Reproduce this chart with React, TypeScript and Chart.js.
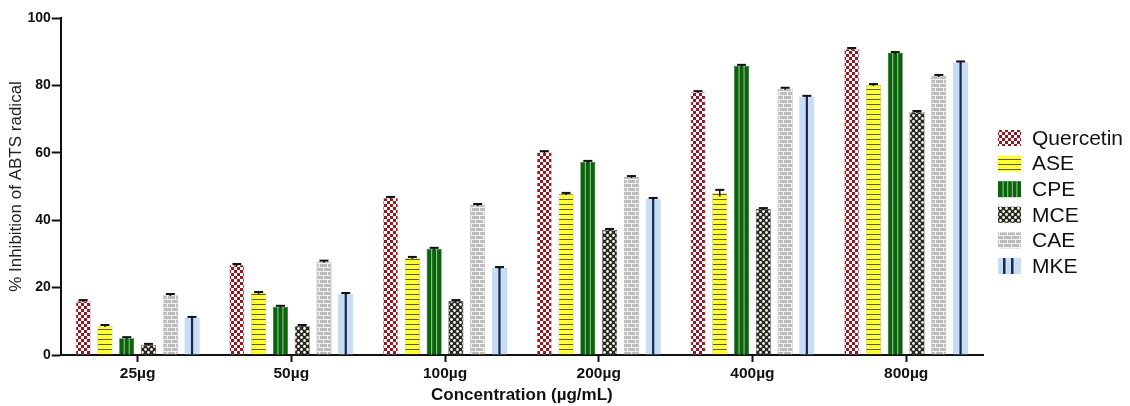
import React, { useEffect, useRef } from "react";
import { Chart, registerables } from "chart.js";
Chart.register(...registerables);

const categories = ["25µg", "50µg", "100µg", "200µg", "400µg", "800µg"];
const seriesNames = ["Quercetin", "ASE", "CPE", "MCE", "CAE", "MKE"];
const quercetin = [16.0, 26.7, 46.6, 60.2, 78.0, 90.8];
const ase = [8.6, 18.4, 28.8, 47.8, 48.0, 80.1];
const cpe = [5.0, 14.3, 31.5, 57.3, 85.8, 89.6];
const mce = [3.0, 8.6, 16.0, 37.1, 43.3, 72.1];
const cae = [17.8, 27.7, 44.5, 52.8, 79.0, 82.8];
const mke = [11.0, 18.1, 25.8, 46.3, 76.6, 86.8];
const quercetinErr = [0.3, 0.3, 0.3, 0.3, 0.3, 0.3];
const aseErr = [0.3, 0.3, 0.3, 0.3, 1.0, 0.3];
const cpeErr = [0.3, 0.3, 0.3, 0.3, 0.3, 0.3];
const mceErr = [0.3, 0.3, 0.3, 0.3, 0.3, 0.3];
const caeErr = [0.3, 0.3, 0.3, 0.3, 0.3, 0.3];
const mkeErr = [0.3, 0.3, 0.3, 0.3, 0.3, 0.3];
const yTicks = [0, 20, 40, 60, 80, 100];

const FONT = "'Liberation Sans', Arial, Helvetica, sans-serif";

function makePattern(w: number, h: number, draw: (c: CanvasRenderingContext2D) => void) {
  const cv = document.createElement("canvas");
  cv.width = w;
  cv.height = h;
  const c = cv.getContext("2d")!;
  draw(c);
  const ctx = document.createElement("canvas").getContext("2d")!;
  return ctx.createPattern(cv, "repeat")!;
}

function buildPatterns() {
  const checker = makePattern(6, 6, (c) => {
    c.fillStyle = "#ffffff";
    c.fillRect(0, 0, 6, 6);
    c.fillStyle = "#9a161e";
    c.fillRect(0, 0, 3, 3);
    c.fillRect(3, 3, 3, 3);
  });
  const hlines = makePattern(4, 5, (c) => {
    c.fillStyle = "#ffff33";
    c.fillRect(0, 0, 4, 5);
    c.fillStyle = "#5a5a30";
    c.fillRect(0, 4, 4, 1);
  });
  const dots = makePattern(6, 6, (c) => {
    c.fillStyle = "#262626";
    c.fillRect(0, 0, 6, 6);
    c.fillStyle = "#f4f4e0";
    c.beginPath();
    c.arc(1.5, 1.5, 1.4, 0, Math.PI * 2);
    c.fill();
    c.beginPath();
    c.arc(4.5, 4.5, 1.4, 0, Math.PI * 2);
    c.fill();
  });
  const bricks = makePattern(8, 8, (c) => {
    c.fillStyle = "#bdbdbd";
    c.fillRect(0, 0, 8, 8);
    c.fillStyle = "#f2f2f2";
    c.fillRect(0, 3, 8, 1);
    c.fillRect(0, 7, 8, 1);
    c.fillRect(7, 0, 1, 3);
    c.fillRect(3, 4, 1, 3);
  });
  return [checker, hlines, "#0b640b", dots, bricks, "#c7dcf5"];
}

export default function App() {
  const ref = useRef<HTMLCanvasElement>(null);
  useEffect(() => {
    const fills = buildPatterns();
    const values = [quercetin, ase, cpe, mce, cae, mke];
    const errs = [quercetinErr, aseErr, cpeErr, mceErr, caeErr, mkeErr];
    const borders = ["#c9a0a0", "#b0b060", "#0b500b", "#303030", "#9a9a9a", "#9fb8d8"];

    const errorPlugin = {
      id: "errs",
      afterDatasetsDraw(chart: any) {
        const ctx = chart.ctx;
        const y = chart.scales.y;
        ctx.save();
        chart.data.datasets.forEach((ds: any, di: number) => {
          const meta = chart.getDatasetMeta(di);
          meta.data.forEach((bar: any, i: number) => {
            if (di === 5) {
              ctx.fillStyle = "#1c2a44";
              ctx.fillRect(bar.x - 1.1, bar.y, 2.2, bar.base - bar.y);
            }
            if (di === 2) {
              ctx.fillStyle = "#9ccc9c";
              ctx.fillRect(bar.x - 3, bar.y, 1, bar.base - bar.y);
              ctx.fillRect(bar.x + 2, bar.y, 1, bar.base - bar.y);
            }
            const v = ds.data[i];
            const e = errs[di][i];
            const top = y.getPixelForValue(v + e);
            const bot = y.getPixelForValue(v - e);
            ctx.strokeStyle = "#111";
            ctx.lineWidth = 1.5;
            ctx.beginPath();
            ctx.moveTo(bar.x, bot);
            ctx.lineTo(bar.x, top);
            ctx.stroke();
            ctx.lineWidth = 2;
            ctx.beginPath();
            ctx.moveTo(bar.x - 4.5, top);
            ctx.lineTo(bar.x + 4.5, top);
            ctx.stroke();
          });
        });
        ctx.restore();
      },
    };

    const legendPlugin = {
      id: "customLegend",
      afterDraw(chart: any) {
        const ctx = chart.ctx;
        ctx.save();
        const x0 = 998;
        const y0 = 138;
        const step = 25.6;
        seriesNames.forEach((name, i) => {
          const cy = y0 + i * step;
          ctx.fillStyle = fills[i] as any;
          ctx.fillRect(x0, cy - 8, 23, 16);
          if (i === 5) {
            ctx.fillStyle = "#1c2a44";
            ctx.fillRect(x0 + 5, cy - 8, 2.5, 16);
            ctx.fillRect(x0 + 13, cy - 8, 2.5, 16);
          }
          if (i === 2) {
            ctx.fillStyle = "#9ccc9c";
            for (let k = 1; k < 5; k++) ctx.fillRect(x0 + k * 4.6, cy - 8, 1, 16);
          }
          ctx.fillStyle = "#111";
          ctx.font = `21px ${FONT}`;
          ctx.textBaseline = "middle";
          ctx.textAlign = "left";
          ctx.fillText(name, x0 + 34, cy + 1);
        });
        ctx.restore();
      },
    };

    const chart = new Chart(ref.current!, {
      type: "bar",
      data: {
        labels: categories,
        datasets: seriesNames.map((n, i) => ({
          label: n,
          data: values[i],
          backgroundColor: fills[i] as any,
          borderColor: borders[i],
          borderWidth: 0.6,
          categoryPercentage: 0.85,
          barPercentage: 0.69,
        })),
      },
      options: {
        animation: false,
        responsive: false,
        maintainAspectRatio: false,
        layout: { padding: { left: 6, right: 147, top: 18, bottom: 0 } },
        plugins: {
          legend: { display: false },
          tooltip: { enabled: false },
        },
        scales: {
          x: {
            offset: true,
            grid: {
              display: true,
              drawOnChartArea: false,
              drawTicks: true,
              tickLength: 7,
              tickWidth: 2,
              tickColor: "#111",
              offset: false,
            },
            border: { display: true, color: "#111", width: 2 },
            ticks: {
              color: "#111",
              font: { family: FONT, size: 15.5, weight: "bold" },
              padding: 2,
            },
            title: {
              display: true,
              text: "Concentration (µg/mL)",
              color: "#111",
              font: { family: FONT, size: 17, weight: "bold" },
              padding: { top: 1, bottom: 0 },
            },
          },
          y: {
            min: 0,
            max: 100,
            afterBuildTicks(axis: any) {
              axis.ticks = yTicks.map((v) => ({ value: v }));
            },
            grid: {
              display: true,
              drawOnChartArea: false,
              drawTicks: true,
              tickLength: 9,
              tickWidth: 2,
              tickColor: "#111",
            },
            border: { display: true, color: "#111", width: 2 },
            ticks: {
              color: "#111",
              font: { family: FONT, size: 14, weight: "bold" },
              padding: 1,
            },
            title: {
              display: true,
              text: "% Inhibition of ABTS radical",
              color: "#222",
              font: { family: FONT, size: 17 },
              padding: { top: 0, bottom: 0 },
            },
          },
        },
      },
      plugins: [errorPlugin, legendPlugin],
    });
    return () => chart.destroy();
  }, []);
  return (
    <div style={{ position: "fixed", left: 0, top: 0, width: 1130, height: 406, background: "#fff" }}>
      <canvas ref={ref} width={1130} height={406} style={{ display: "block" }} />
    </div>
  );
}
